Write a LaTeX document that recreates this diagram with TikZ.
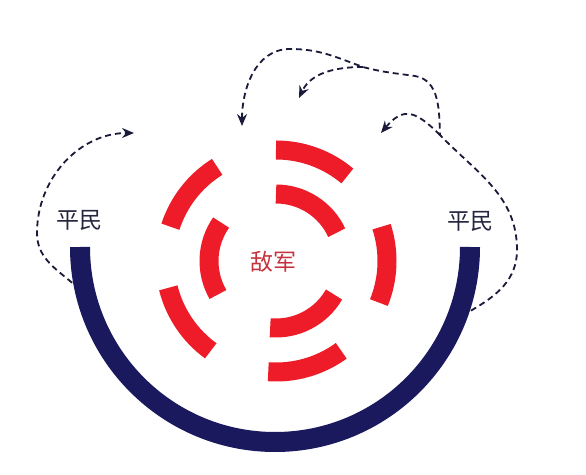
\documentclass[tikz,border=0pt]{standalone}
\usepackage{fontspec}
\newfontfamily\cjk{Noto Sans CJK SC}
\usetikzlibrary{arrows.meta, positioning}

\definecolor{navy}{RGB}{27,25,94}
\definecolor{enemyred}{RGB}{237,28,40}
\definecolor{enemytext}{RGB}{196,50,62}
\definecolor{civtext}{RGB}{38,38,62}
\definecolor{flowcol}{RGB}{26,26,58}

\begin{document}
\begin{tikzpicture}[
      x=1pt, y=1pt,
      font=\cjk\fontsize{23}{23}\selectfont,
      navyband/.style={draw=navy, line width=20pt},
      redband/.style={draw=enemyred, line width=19pt},
      civ/.style={text=civtext, inner sep=0pt},
      flow/.style={draw=flowcol, line width=1.8pt, dash pattern=on 6pt off 4pt},
      tip/.style={-{Stealth[length=12pt,width=10pt,inset=4pt]}}
    ]
      \useasboundingbox (0,0) rectangle (586,474);

      \coordinate (base) at (275,227);
      \coordinate (hub) at (276,213);

      % civilians around
      \draw [navyband] ([shift={(180:195pt)}]base) arc[start angle=180, end angle=360, radius=195pt];

      % enemy rings
      \foreach \a in {50,122,194,266,338}
        \draw [redband] ([shift={(\a:111pt)}]hub) arc[start angle=\a, end angle=\a+40, radius=111pt];
      \foreach \a in {25,145,265}
        \draw [redband] ([shift={(\a:67pt)}]hub) arc[start angle=\a, end angle=\a+65, radius=67pt];

      \node (enemy) [text=enemytext, inner sep=0pt] at (273,212) {敌军};
      \node (leftciv) [civ] at (79,254) {平民};
      \node (rightciv) [civ] at (470,253) {平民};

      \coordinate (lstart) at ([shift={(190:206pt)}]base);
      \coordinate (rstart) at ([shift={(-18:206pt)}]base);
      \coordinate (ltip) at (134,341);
      \coordinate (toptip) at (242,348);
      \coordinate (midtip) at (299,376);
      \coordinate (rtip) at (381,341);
      \coordinate (fork) at (440,339);
      \coordinate (split) at (363,407);

      \draw [flow, tip] (lstart) to[out=140,in=-90] (37,241) to[out=90,in=180] (ltip);
      \draw [flow, tip] (rstart) to[out=30,in=-90] (517,224) to[out=90,in=-46] (fork)
            to[out=92,in=-10] (415,398) to[out=172,in=-15] (split)
            to[out=160,in=0] (290,425) to[out=180,in=90] (toptip);
      \draw [flow, tip] (split) to[out=180,in=65] (midtip);
      \draw [flow, tip] (fork) to[out=135,in=50,looseness=1.5] (rtip);
    \end{tikzpicture}
\end{document}
